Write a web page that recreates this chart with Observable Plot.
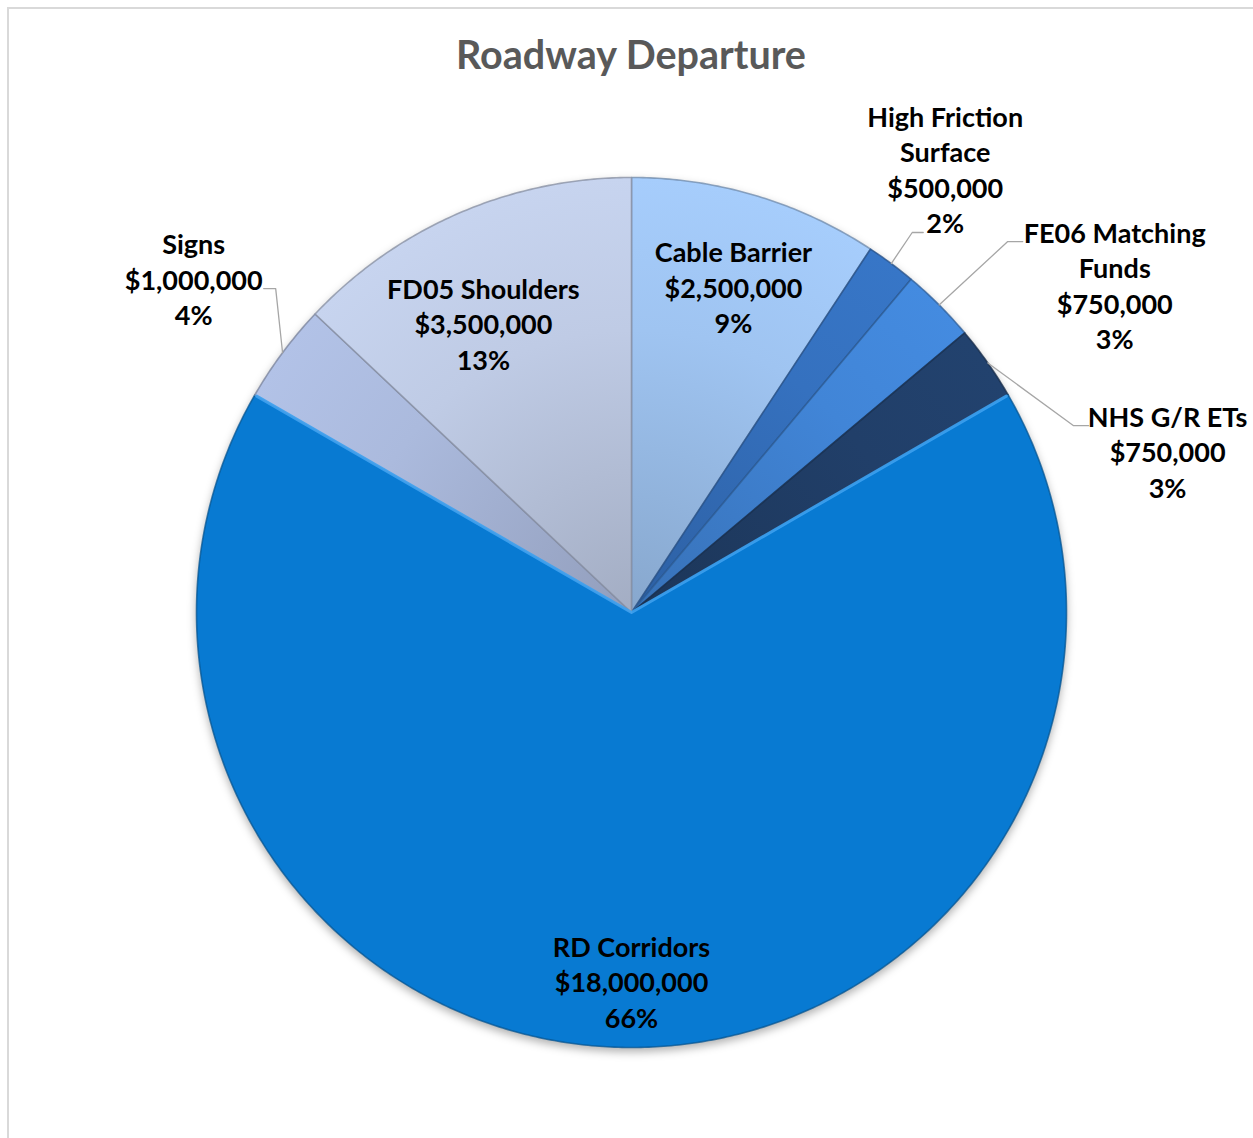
<!DOCTYPE html>
<html><head><meta charset="utf-8">
<script src="https://cdn.jsdelivr.net/npm/d3@7"></script>
<script src="https://cdn.jsdelivr.net/npm/@observablehq/plot@0.6"></script>
<style>
html,body{margin:0;padding:0;background:#fff;overflow:hidden;width:1253px;height:1138px;}
#frame{position:absolute;left:7px;top:7px;width:1400px;height:1400px;border:2px solid #d9d9d9;box-sizing:border-box;}
#title{position:absolute;left:0;top:30px;width:1262px;text-align:center;font:bold 39.5px Lato, sans-serif;color:#595959;}
#chart{position:absolute;left:0;top:0;}
</style></head><body>
<div id="frame"></div>
<div id="title">Roadway Departure</div>
<div id="chart"></div>
<script>
// ---- data ----
const categories = ["Cable Barrier","High Friction Surface","FE06 Matching Funds","NHS G/R ETs","RD Corridors","Signs","FD05 Shoulders"];
const amounts = [2500000, 500000, 750000, 750000, 18000000, 1000000, 3500000];
const percentLabels = ["9%","2%","3%","3%","66%","4%","13%"];
const nameLines = [["Cable Barrier"],["High Friction","Surface"],["FE06 Matching","Funds"],["NHS G/R ETs"],["RD Corridors"],["Signs"],["FD05 Shoulders"]];
const sliceColors = ["#9FC4F1","#3571BF","#4185D7","#213F69","#087AD2","#ABBADD","#BFCBE5"];

// ---- layout ----
const W = 1253, H = 1138, CX = 631, CY = 612, R = 435;
// label placement: radius (in pie radii) and angle offset from slice mid-angle (deg);
// leader: attach point offset from label centre (px) and horizontal run (px)
const labelPlacement = [
  {r: 0.781, dA: 0.8},
  {r: 1.246, dA: -1.3, leader: {dx: -22, dy: 62, run: -11}},
  {r: 1.34,  dA: 11,   leader: {dx: -92, dy: -45, run: -15}},
  {r: 1.286, dA: 18.4, leader: {dx: -79, dy: -27, run: -15}},
  {r: 0.851, dA: 0},
  {r: 1.263, dA: 0.5,  leader: {dx: 70, dy: 8, run: 12}},
  {r: 0.744, dA: -3.9}
];

const data = categories.map((c, i) => ({name: c, value: amounts[i], i}));
const arcs = d3.pie().sort(null).value(d => d.value).startAngle(0).endAngle(2 * Math.PI)(data);

const polar = (a, r) => ({x: r * Math.sin(a), y: r * Math.cos(a)});
const isMain = i => amounts[i] === d3.max(amounts);

const slicePts = [];
for (const a of arcs) {
  const i = a.data.i;
  const fill = isMain(i) ? sliceColors[i] : `url(#grad${i})`;
  const edge = d3.color(sliceColors[i]).darker(1).formatHex();
  slicePts.push({name: a.data.name, fill, edge, x: 0, y: 0});
  const n = Math.max(4, Math.ceil((a.endAngle - a.startAngle) / (Math.PI / 360)));
  for (let k = 0; k <= n; k++) {
    const t = a.startAngle + (a.endAngle - a.startAngle) * k / n;
    slicePts.push({name: a.data.name, fill, edge, ...polar(t, 1)});
  }
}

// highlight along the straight edges of the largest slice
const mainArc = arcs.find(a => isMain(a.data.i));
const highlightPts = [polar(mainArc.startAngle, 0.995), {x: 0, y: 0}, polar(mainArc.endAngle, 0.995)];

const labels = [], leaderPts = [];
arcs.forEach((a, i) => {
  const mid = (a.startAngle + a.endAngle) / 2;
  const pl = labelPlacement[i];
  const p = polar(mid + pl.dA * Math.PI / 180, pl.r);
  const text = [...nameLines[i], "$" + d3.format(",")(amounts[i]), percentLabels[i]].join("\n");
  labels.push({x: p.x, y: p.y, text});
  if (pl.leader) {
    const L = pl.leader;
    const end = {x: p.x + L.dx / R, y: p.y - L.dy / R};
    const knee = {x: end.x + L.run / R, y: end.y};
    const start = polar(mid, 1);
    leaderPts.push({name: a.data.name, ...start}, {name: a.data.name, ...knee}, {name: a.data.name, ...end});
  }
});

const chart = Plot.plot({
  width: W, height: H, margin: 0,
  x: {domain: [-CX / R, (W - CX) / R], axis: null},
  y: {domain: [-(H - CY) / R, CY / R], axis: null},
  color: {type: "identity"},
  style: {background: "transparent", overflow: "visible"},
  marks: [
    Plot.line(slicePts, {x: "x", y: "y", z: "name", fill: "fill", stroke: "edge", strokeWidth: 1.6, strokeOpacity: 0.75, curve: "linear-closed"}),
    Plot.line(highlightPts, {x: "x", y: "y", stroke: "#3DA2F2", strokeWidth: 3, strokeOpacity: 0.9}),
    Plot.line(leaderPts, {x: "x", y: "y", z: "name", stroke: "#a6a6a6", strokeWidth: 1.3}),
    Plot.text(labels, {x: "x", y: "y", dy: -2, text: "text", fontSize: 27, fontWeight: "bold", fill: "#000", lineHeight: 1.315, lineAnchor: "middle", fontFamily: "Lato, sans-serif"})
  ]
});

// radial shading gradients (style only), centred on the pie centre via the plot scales
const sx = chart.scale("x"), sy = chart.scale("y");
const px = sx.apply(0), py = sy.apply(0), pr = sx.apply(1) - sx.apply(0);
const defs = d3.select(chart).insert("defs", ":first-child");
sliceColors.forEach((c, i) => {
  const g = defs.append("radialGradient").attr("id", `grad${i}`).attr("gradientUnits", "userSpaceOnUse")
    .attr("cx", px).attr("cy", py).attr("r", pr);
  g.append("stop").attr("offset", 0).attr("stop-color", d3.color(c).darker(0.45).formatHex());
  g.append("stop").attr("offset", 0.65).attr("stop-color", c);
  g.append("stop").attr("offset", 1).attr("stop-color", d3.color(c).brighter(0.12).formatHex());
});

document.getElementById("chart").appendChild(chart);
d3.select(chart).select("g[aria-label=line]").style("filter", "drop-shadow(0px 4px 4px rgba(0,0,0,0.3))");
</script>
</body></html>
